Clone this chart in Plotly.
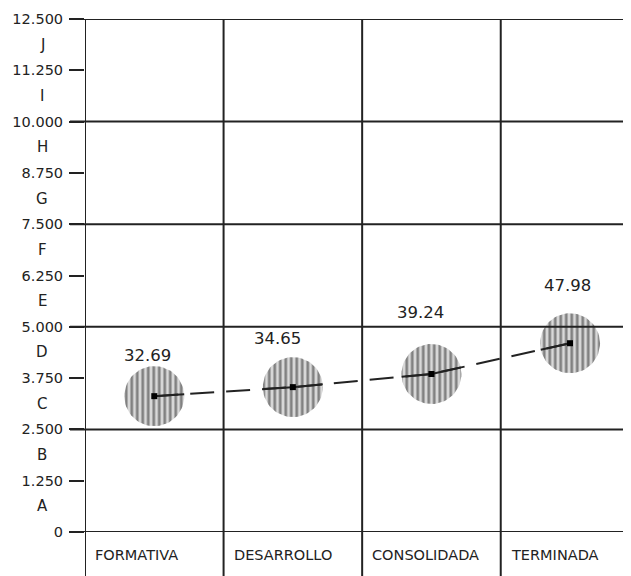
import numpy as np
import plotly.graph_objects as go

# ---------------- data ----------------
categories = ["FORMATIVA", "DESARROLLO", "CONSOLIDADA", "TERMINADA"]
values = [3310, 3530, 3850, 4600]
value_labels = ["32.69", "34.65", "39.24", "47.98"]
y_tick_values = [0, 1250, 2500, 3750, 5000, 6250, 7500, 8750, 10000, 11250, 12500]
letter_labels = ["A", "B", "C", "D", "E", "F", "G", "H", "I", "J"]
grid_values = [0, 2500, 5000, 7500, 10000, 12500]

# ---------------- style ----------------
OFF = 8                              # page body margin of the browser
W, H = 631 - OFF, 576 - OFF
ML, MR, MT = 85 - OFF, 0, 19 - OFF
MB = H - MT - 513
XMAX = 3.94
YMAX = 12500
INK = "#222222"
TXT = "#222222"
FONT = "DejaVu Sans"
label_dx = [-7, -15, -11, -3]      # pixel shifts of value labels
label_dy = [41, 49, 62, 58]
R_PX = 30                           # circle radius in pixels

pw, ph = W - ML - MR, H - MT - MB
px_x = pw / XMAX
px_y = ph / YMAX

xs = [i + 0.5 for i in range(len(categories))]

fig = go.Figure()

# hatched circles
t = np.linspace(0, 2 * np.pi, 73)
for x, v in zip(xs, values):
    fig.add_trace(go.Scatter(
        x=x + (R_PX / px_x) * np.cos(t), y=v + (R_PX / px_y) * np.sin(t),
        mode="lines", fill="toself", line=dict(width=0, color="rgba(0,0,0,0)"),
        fillcolor="#cfcfcf",
        fillpattern=dict(shape="|", size=5.5, solidity=0.5, fgcolor="#2a2a2a", bgcolor="#d9d9d9"),
        hoverinfo="skip", showlegend=False))

# dashed connecting line
fig.add_trace(go.Scatter(x=xs, y=values, mode="lines",
                         line=dict(color=INK, width=2, dash="24px,12px"),
                         hoverinfo="skip", showlegend=False))

# solid segments inside circles
for i, (x, v) in enumerate(zip(xs, values)):
    for j in (i - 1, i + 1):
        if 0 <= j < len(xs):
            dxp = (xs[j] - x) * px_x
            dyp = (values[j] - v) * px_y
            d = np.hypot(dxp, dyp)
            fig.add_trace(go.Scatter(
                x=[x, x + dxp / d * R_PX / px_x], y=[v, v + dyp / d * R_PX / px_y],
                mode="lines", line=dict(color=INK, width=2),
                hoverinfo="skip", showlegend=False))

# center dots
fig.add_trace(go.Scatter(x=xs, y=values, mode="markers",
                         marker=dict(symbol="square", size=6, color="#000"),
                         hoverinfo="skip", showlegend=False))

# value labels
for x, v, lab, dx, dy in zip(xs, values, value_labels, label_dx, label_dy):
    fig.add_annotation(x=x, y=v, text=lab, showarrow=False, xshift=dx, yshift=dy,
                       font=dict(family=FONT, size=16.5, color=TXT))

# letters between numeric ticks
for k, L in enumerate(letter_labels):
    fig.add_annotation(x=-(85 - 42) / pw, xref="paper", y=y_tick_values[k] + 625, yref="y",
                       text=L, showarrow=False, xanchor="center",
                       font=dict(family=FONT, size=15, color=TXT))

# category labels
for i, c in enumerate(categories):
    fig.add_annotation(x=i, y=-(555 - 532) / ph, xref="x", yref="paper",
                       text=c, showarrow=False, xanchor="left", xshift=8, yanchor="middle",
                       font=dict(family=FONT, size=14.5, color=TXT))

shapes = []
# horizontal grid lines (extend left of axis like ticks)
for g in grid_values:
    shapes.append(dict(type="line", xref="paper", yref="y", x0=-15 / pw, x1=1, y0=g, y1=g,
                       line=dict(color=INK, width=2)))
# vertical column lines (extend below the zero line)
for i in range(len(categories)):
    shapes.append(dict(type="line", xref="x", yref="paper", x0=i, x1=i, y0=-MB / ph - 0.01, y1=1,
                       line=dict(color=INK, width=2)))

fig.update_layout(
    width=W, height=H, margin=dict(l=ML, r=MR, t=MT, b=MB, autoexpand=False),
    paper_bgcolor="white", plot_bgcolor="white",
    separators=",.",
    shapes=shapes,
    xaxis=dict(range=[0, XMAX], showgrid=False, zeroline=False, showticklabels=False,
               ticks="", showline=False),
    yaxis=dict(range=[0, YMAX], tickmode="array", tickvals=y_tick_values, tickformat=",d",
               showgrid=False, zeroline=False, showline=False,
               ticks="outside", ticklen=15, tickwidth=2, tickcolor=INK,
               ticklabelstandoff=3,
               tickfont=dict(family=FONT, size=14.5, color=TXT)),
)

fig.write_html("out.html")
